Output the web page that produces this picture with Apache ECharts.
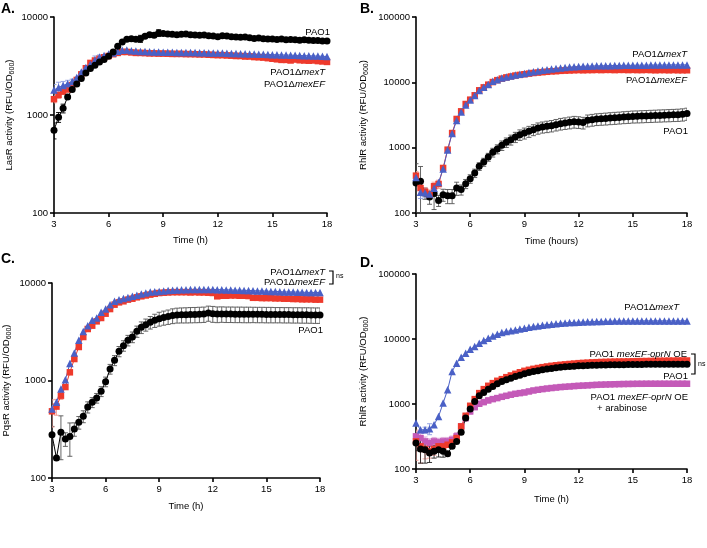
<!DOCTYPE html>
<html><head><meta charset="utf-8">
<script src="https://cdn.jsdelivr.net/npm/echarts@6/dist/echarts.min.js"></script>
<style>html,body{margin:0;padding:0;background:#fff}#c{width:707px;height:548px}</style>
</head><body><div id="c"></div>
<script>
const time = [3,3.25,3.5,3.75,4,4.25,4.5,4.75,5,5.25,5.5,5.75,6,6.25,6.5,6.75,7,7.25,7.5,7.75,8,8.25,8.5,8.75,9,9.25,9.5,9.75,10,10.25,10.5,10.75,11,11.25,11.5,11.75,12,12.25,12.5,12.75,13,13.25,13.5,13.75,14,14.25,14.5,14.75,15,15.25,15.5,15.75,16,16.25,16.5,16.75,17,17.25,17.5,17.75,18];

// Panel A – LasR
const A_PAO1 = [700,950,1170,1530,1820,2070,2360,2690,2980,3220,3480,3680,3980,4400,5030,5570,5930,5990,5930,6000,6350,6600,6500,6870,6770,6700,6650,6600,6650,6700,6600,6550,6500,6550,6450,6400,6300,6450,6400,6300,6250,6200,6250,6150,6050,6100,6000,5950,5950,5900,5950,5850,5900,5850,5800,5850,5800,5750,5750,5700,5700];
const A_PAO1_err = {0:130,1:110,2:120,3:60,19:500,23:550};
const A_mexT = [1800,1910,2000,2080,2200,2420,2750,3050,3300,3650,3900,4050,4200,4300,4480,4580,4600,4520,4500,4450,4450,4420,4400,4400,4380,4370,4360,4350,4350,4340,4330,4330,4320,4310,4300,4300,4290,4280,4270,4250,4240,4220,4210,4200,4180,4170,4160,4150,4130,4120,4100,4090,4080,4060,4050,4030,4020,4000,3990,3970,3950];
const A_mexT_err = {0:250,1:250,2:200,3:180,4:120,9:350,10:200};
const A_mexEF = [1450,1600,1730,1820,2020,2280,2600,3000,3400,3600,3750,3880,4000,4170,4300,4400,4400,4350,4300,4300,4280,4250,4250,4230,4230,4220,4200,4200,4200,4180,4180,4170,4150,4150,4120,4100,4080,4080,4050,4030,4000,4000,3950,3950,3900,3880,3850,3800,3750,3700,3650,3650,3600,3680,3620,3600,3580,3600,3550,3520,3480];
const A_mexEF_err = {0:120,1:120};

// Panel B – RhlR
const B_PAO1 = [288,305,202,176,198,156,191,184,184,241,228,281,335,409,518,603,719,848,954,1086,1207,1325,1456,1581,1675,1778,1886,1998,2070,2120,2170,2250,2330,2380,2440,2500,2470,2420,2620,2680,2740,2770,2800,2840,2870,2900,2940,2970,3010,3020,3040,3060,3080,3100,3120,3140,3160,3180,3200,3240,3320];
const B_PAO1_err = [280,210,40,40,85,30,40,45,45,55,40,45,50,60,70,85,100,130,150,180,200,230,260,290,320,340,360,390,400,420,430,450,470,480,500,510,500,490,540,550,560,570,580,590,600,600,610,620,630,630,640,640,650,650,660,660,670,670,680,690,700];
const B_mexEF = [373,241,212,195,256,278,489,932,1675,2750,3600,4660,5430,6330,7550,8380,9210,10100,10800,11400,11900,12300,12700,13000,13300,13600,13900,14100,14300,14500,14700,14800,15000,15100,15200,15300,15400,15300,15400,15400,15500,15400,15500,15500,15400,15500,15500,15400,15500,15400,15400,15500,15400,15300,15400,15400,15300,15400,15300,15300,15300];
const B_mexEF_err = {0:60,1:40,2:30,3:30,4:40,5:40};
const B_mexT = [350,207,205,195,240,294,470,920,1650,2600,3500,4500,5350,6300,7500,8400,9300,10350,11000,11600,12100,12500,12900,13300,13700,14100,14500,14900,15300,15650,16000,16300,16600,16900,17100,17300,17500,17600,17700,17800,17900,17900,18000,18000,18100,18100,18200,18200,18200,18300,18300,18300,18400,18400,18400,18400,18500,18500,18500,18500,18500];
const B_mexT_err = {1:40,2:30};

// Panel C – PqsR
const C_PAO1 = [278,160,294,251,267,318,372,429,534,597,661,774,973,1312,1610,1992,2277,2582,2792,3192,3509,3738,3950,4140,4310,4420,4520,4630,4700,4720,4730,4750,4760,4780,4800,4920,4850,4800,4820,4800,4800,4790,4790,4780,4780,4780,4770,4770,4760,4760,4750,4750,4740,4740,4730,4730,4720,4720,4710,4700,4700];
const C_PAO1_err = [60,0,140,40,100,50,55,60,70,70,75,90,110,150,190,240,280,320,350,420,480,530,580,640,700,730,760,800,820,830,840,850,850,860,860,870,900,880,870,870,870,870,870,870,870,860,860,860,860,860,850,850,850,850,850,850,850,850,850,850,850];
const C_mexEF = [483,540,699,857,1213,1660,2206,2793,3374,3650,4042,4376,4845,5405,5993,6330,6490,6750,6900,7130,7300,7450,7600,7750,7890,7950,8000,8050,8050,8050,8050,8000,8050,8000,8000,7950,7900,7300,7400,7400,7450,7450,7400,7400,7350,7050,7050,7000,7000,7000,6950,6950,6900,6900,6850,6850,6800,6800,6800,6750,6750];
const C_mexEF_err = {0:150,1:100,2:60};
const C_mexT = [511,597,818,1020,1490,1916,2582,3190,3650,4140,4376,5000,5405,5990,6490,6750,6930,7100,7300,7500,7710,7900,8100,8150,8200,8300,8400,8450,8500,8550,8550,8600,8600,8600,8600,8600,8600,8550,8550,8500,8500,8450,8450,8400,8400,8350,8300,8300,8250,8200,8200,8150,8100,8100,8100,8050,8050,8000,8000,8000,8000];
const C_mexT_err = {0:40};

// Panel D – RhlR with overexpression
const D_mexT = [509,402,400,417,480,644,1032,1655,3165,4250,5250,6050,6970,7660,8620,9470,10290,11160,11850,12570,13020,13400,13800,14200,14650,15100,15530,15900,16280,16600,16870,17200,17490,17700,17900,18000,18120,18250,18350,18450,18560,18650,18700,18800,18850,18900,18950,19000,19000,19000,19000,19000,19000,19000,19000,19000,19000,19000,19000,19000,19000];
const D_mexT_err = {2:40,3:80};
const D_OE = [266,223,203,187,203,223,223,236,257,299,452,659,939,1189,1470,1693,1905,2094,2275,2412,2588,2750,2912,3080,3238,3360,3476,3580,3688,3780,3867,3940,4010,4070,4130,4190,4250,4290,4330,4370,4400,4430,4450,4470,4490,4500,4510,4520,4540,4560,4570,4580,4590,4600,4620,4630,4640,4650,4660,4670,4670];
const D_OE_err = {0:130,1:100,2:60,3:40,4:40,5:40};
const D_PAO1 = [251,203,198,176,187,198,187,172,223,266,366,607,835,1095,1337,1505,1693,1862,2046,2223,2355,2500,2650,2780,2912,3040,3165,3260,3357,3440,3517,3600,3688,3730,3780,3820,3867,3890,3910,3940,3963,3980,3990,4000,4010,4020,4030,4040,4050,4060,4070,4080,4080,4090,4090,4100,4100,4100,4100,4100,4100];
const D_PAO1_err = {0:60,1:80,2:75,3:50,4:40,5:45,6:35};
const D_arab = [318,299,266,251,266,257,266,266,282,318,452,607,769,896,1008,1070,1135,1189,1233,1290,1337,1390,1436,1470,1505,1560,1615,1655,1693,1730,1760,1790,1820,1840,1860,1885,1905,1920,1935,1955,1973,1985,1995,2005,2015,2022,2030,2035,2040,2046,2046,2050,2050,2050,2050,2050,2050,2050,2050,2050,2050];
const D_arab_err = [60,50,45,40,40,40,40,40,40,45,50,60,70,80,90,95,100,100,105,110,110,115,120,120,120,125,125,130,130,130,130,130,135,135,135,135,135,135,135,135,135,135,135,135,135,135,135,135,135,135,135,135,135,135,135,135,135,135,135,135,135];

const yTitles = ['LasR activity (RFU/OD', 'RhlR activity (RFU/OD', 'PqsR activity (RFU/OD', 'RhlR activity (RFU/OD'];
const xTitles = ['Time (h)', 'Time (hours)', 'Time (h)', 'Time (h)'];
const yMax = [10000, 100000, 10000, 100000];

const BLACK = '#000000', BLUE = '#4a60c6', RED = '#ee3a2c', MAG = '#c45ab8';
const FONT = '"Liberation Sans", Arial, Helvetica, sans-serif';

const chart = echarts.init(document.getElementById('c'), null, {renderer: 'canvas'});

const grids = [
  {left: 54, top: 17, width: 273, height: 196},
  {left: 416, top: 17, width: 271, height: 196},
  {left: 50, top: 283, width: 270, height: 195},
  {left: 416, top: 274, width: 271, height: 195}
];
const yNameGap = [38, 46, 39, 46];
const xNameGap = [22, 23, 23, 25];

const xAxes = grids.map((g, i) => ({
  type: 'value', gridIndex: i, min: 3, max: 18, interval: 3,
  name: xTitles[i], nameLocation: 'middle', nameGap: xNameGap[i],
  nameTextStyle: {fontSize: 9.5, color: '#000', fontFamily: FONT},
  axisLine: {lineStyle: {color: '#000', width: 1.6}},
  axisTick: {show: true, length: 4, lineStyle: {color: '#000', width: 1.6}},
  axisLabel: {fontSize: 9.5, color: '#000', margin: 6, fontFamily: FONT},
  splitLine: {show: false}
}));
const yAxes = grids.map((g, i) => ({
  type: 'log', logBase: 10, gridIndex: i, min: 100, max: yMax[i],
  name: '{a|' + yTitles[i] + '}{s|600}{a|)}', nameLocation: 'middle', nameGap: yNameGap[i], nameRotate: 90,
  nameTextStyle: {color: '#000', fontFamily: FONT, rich: {
    a: {fontSize: 9.5, lineHeight: 14, verticalAlign: 'middle', color: '#000', fontFamily: FONT},
    s: {fontSize: 7, lineHeight: 7, verticalAlign: 'bottom', color: '#000', fontFamily: FONT}
  }},
  axisLine: {show: true, lineStyle: {color: '#000', width: 1.6}},
  axisTick: {show: true, length: 4, lineStyle: {color: '#000', width: 1.6}},
  minorTick: {show: false},
  axisLabel: {fontSize: 9.5, color: '#000', margin: 6, fontFamily: FONT, formatter: v => String(Math.round(v))},
  splitLine: {show: false}
}));

const series = [];
function errVal(err, i) { return Array.isArray(err) ? err[i] : (err[i] || 0); }
function addSeries(panel, vals, err, color, errColor, symbol, size) {
  const eData = [];
  vals.forEach((v, i) => {
    const e = errVal(err, i);
    if (e > 0) eData.push([time[i], Math.max(v - e, 1), v + e]);
  });
  series.push({
    type: 'custom', xAxisIndex: panel, yAxisIndex: panel, clip: true,
    encode: {x: 0, y: [1, 2]}, data: eData, silent: true,
    itemStyle: {color: errColor},
    renderItem: function (params, api) {
      const x = api.value(0), lo = api.value(1), hi = api.value(2);
      const p1 = api.coord([x, hi]), p2 = api.coord([x, lo]);
      const w = 2.5;
      const st = {stroke: errColor, lineWidth: 0.9};
      return {type: 'group', children: [
        {type: 'line', shape: {x1: p1[0], y1: p1[1], x2: p2[0], y2: p2[1]}, style: st},
        {type: 'line', shape: {x1: p1[0] - w, y1: p1[1], x2: p1[0] + w, y2: p1[1]}, style: st},
        {type: 'line', shape: {x1: p2[0] - w, y1: p2[1], x2: p2[0] + w, y2: p2[1]}, style: st}
      ]};
    }
  });
  series.push({
    type: 'line', xAxisIndex: panel, yAxisIndex: panel,
    data: vals.map((v, i) => [time[i], v]),
    symbol: symbol, symbolSize: size, showSymbol: true, animation: false,
    lineStyle: {color: color, width: 1},
    itemStyle: {color: color, borderWidth: 0, opacity: 1},
    emphasis: {disabled: true}
  });
}

// A
addSeries(0, A_mexEF, A_mexEF_err, RED, '#f29a92', 'rect', 6.5);
addSeries(0, A_mexT, A_mexT_err, BLUE, '#8c9be0', 'triangle', 7.5);
addSeries(0, A_PAO1, A_PAO1_err, BLACK, '#000', 'circle', 7);
// B
addSeries(1, B_PAO1, B_PAO1_err, BLACK, '#555', 'circle', 7);
addSeries(1, B_mexEF, B_mexEF_err, RED, '#f29a92', 'rect', 6.5);
addSeries(1, B_mexT, B_mexT_err, BLUE, '#8c9be0', 'triangle', 7.5);
// C
addSeries(2, C_PAO1, C_PAO1_err, BLACK, '#555', 'circle', 7);
addSeries(2, C_mexEF, C_mexEF_err, RED, '#f29a92', 'rect', 6.5);
addSeries(2, C_mexT, C_mexT_err, BLUE, '#8c9be0', 'triangle', 7.5);
// D
addSeries(3, D_arab, D_arab_err, MAG, '#dfa6d8', 'rect', 6.5);
addSeries(3, D_OE, D_OE_err, RED, '#f29a92', 'rect', 6.5);
addSeries(3, D_PAO1, D_PAO1_err, BLACK, '#222', 'circle', 7);
addSeries(3, D_mexT, D_mexT_err, BLUE, '#8c9be0', 'triangle', 7.5);

function lbl(x, y, text, rich, align) {
  return {type: 'text', x: x, y: y, z: 100, style: {text: text, align: align || 'right', verticalAlign: 'middle',
    fontSize: 9.5, fontFamily: FONT, rich: rich}};
}
function richC(c) {
  return {n: {fontSize: 9.5, fontFamily: FONT, color: c}, i: {fontSize: 9.5, fontFamily: FONT, color: c, fontStyle: 'italic'}};
}
const rB = richC(BLACK), rBl = richC(BLUE), rR = richC(RED), rM = richC(MAG);

const graphics = [
  {type: 'text', x: 1, y: 9, style: {text: 'A.', fontSize: 14, fontWeight: 'bold', fontFamily: FONT, fill: '#000', verticalAlign: 'middle'}},
  {type: 'text', x: 360, y: 9, style: {text: 'B.', fontSize: 14, fontWeight: 'bold', fontFamily: FONT, fill: '#000', verticalAlign: 'middle'}},
  {type: 'text', x: 1, y: 259, style: {text: 'C.', fontSize: 14, fontWeight: 'bold', fontFamily: FONT, fill: '#000', verticalAlign: 'middle'}},
  {type: 'text', x: 360, y: 263, style: {text: 'D.', fontSize: 14, fontWeight: 'bold', fontFamily: FONT, fill: '#000', verticalAlign: 'middle'}},
  // A labels
  lbl(330, 32, '{n|PAO1}', rB),
  lbl(325, 72, '{n|PAO1Δ}{i|mexT}', rBl),
  lbl(325, 84, '{n|PAO1Δ}{i|mexEF}', rR),
  // B labels
  lbl(687, 54, '{n|PAO1Δ}{i|mexT}', rBl),
  lbl(687, 80, '{n|PAO1Δ}{i|mexEF}', rR),
  lbl(688, 131, '{n|PAO1}', rB),
  // C labels
  lbl(325, 272, '{n|PAO1Δ}{i|mexT}', rBl),
  lbl(325, 282, '{n|PAO1Δ}{i|mexEF}', rR),
  lbl(323, 330, '{n|PAO1}', rB),
  {type: 'polyline', z: 100, shape: {points: [[329, 271], [333, 271], [333, 284], [329, 284]]}, style: {stroke: '#000', lineWidth: 1.2, fill: null}},
  {type: 'text', x: 336, y: 276, z: 100, style: {text: 'ns', fontSize: 7, fontFamily: FONT, fill: '#000', verticalAlign: 'middle'}},
  // D labels
  lbl(679, 307, '{n|PAO1Δ}{i|mexT}', rBl),
  lbl(687, 354, '{n|PAO1 }{i|mexEF-oprN}{n| OE}', rR),
  lbl(688, 376, '{n|PAO1}', rB),
  lbl(688, 397, '{n|PAO1 }{i|mexEF-oprN}{n| OE}', rM),
  lbl(597, 408, '{n|+ arabinose}', rM, 'left'),
  {type: 'polyline', z: 100, shape: {points: [[691, 354], [695, 354], [695, 374], [691, 374]]}, style: {stroke: '#000', lineWidth: 1.2, fill: null}},
  {type: 'text', x: 698, y: 364, z: 100, style: {text: 'ns', fontSize: 7, fontFamily: FONT, fill: '#000', verticalAlign: 'middle'}}
];

chart.setOption({
  animation: false,
  backgroundColor: '#fff',
  grid: grids,
  xAxis: xAxes,
  yAxis: yAxes,
  series: series,
  graphic: graphics
});
</script>
</body></html>
